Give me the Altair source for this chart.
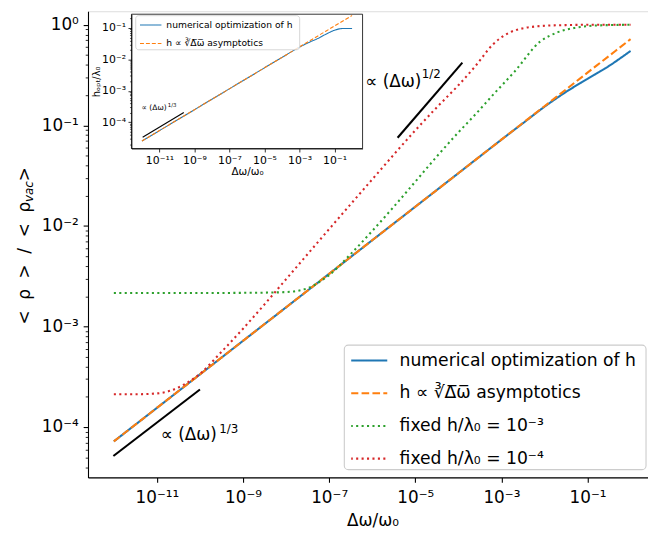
import altair as alt
import pandas as pd

# ---------------- main panel ----------------
main_series = ["numerical optimization of h", "h ∝ ∛Δ\u0305ω\u0305 asymptotics",
               "fixed h/λ₀ = 10⁻³", "fixed h/λ₀ = 10⁻⁴"]
main_colors = ["#1f77b4", "#ff7f0e", "#2ca02c", "#d62728"]
main_dashes = [[1, 0], [7.7, 3.3], [2.1, 3.4], [2.1, 3.4]]

# x given as decade exponents of Δω/ω0, y as <ρ>/<ρvac>
blue_xexp = [-12, -11, -10, -9, -8, -7, -6, -5, -4, -3, -2.5, -2, -1.5, -1, -0.5, 0]
blue_y = [7.2e-5, 1.55e-4, 3.34e-4, 7.2e-4, 1.55e-3, 3.34e-3, 7.2e-3, 1.55e-2,
          3.34e-2, 7.2e-2, 0.105, 0.153, 0.215, 0.29, 0.39, 0.55]
orange_xexp = [-12, -11, -10, -9, -8, -7, -6, -5, -4, -3, -2, -1, 0]
orange_y = [7.2e-5, 1.55e-4, 3.34e-4, 7.2e-4, 1.55e-3, 3.34e-3, 7.2e-3, 1.55e-2,
            3.34e-2, 7.2e-2, 0.155, 0.334, 0.72]
green_xexp = [-12, -10, -9, -8.5, -8, -7.5, -7.2, -7, -6.5, -6, -5.5, -5, -4.5, -4,
              -3.6, -3.2, -2.7, -2.1, -1.7, -1.3, -1, -0.5, 0]
green_y = [2.15e-3, 2.15e-3, 2.16e-3, 2.17e-3, 2.2e-3, 2.4e-3, 2.82e-3, 3.24e-3,
           5.25e-3, 8.9e-3, 1.55e-2, 2.75e-2, 4.9e-2, 8.5e-2, 0.129, 0.2, 0.34,
           0.68, 0.84, 0.93, 0.97, 0.993, 1.0]
red_xexp = [-12, -11.5, -11, -10.7, -10.4, -10, -9.5, -9, -8.5, -8, -7, -6, -5,
            -4.5, -4, -3.6, -3.2, -2.65, -2, -1.5, -1, 0]
red_y = [2.12e-4, 2.12e-4, 2.16e-4, 2.29e-4, 2.6e-4, 3.39e-4, 5.6e-4, 9.5e-4,
         1.66e-3, 2.95e-3, 9.3e-3, 2.9e-2, 8.9e-2, 0.151, 0.25, 0.39, 0.635, 0.89,
         0.977, 0.993, 1.0, 1.0]
ref13_xexp = [-12.01, -10.0]
ref13_y = [5.15e-5, 2.36e-4]
ref12_xexp = [-5.41, -3.906]
ref12_y = [7.53e-2, 0.42]

ann_main_xexp = [-10.908, -9.55, -6.16, -4.85]
ann_main_y = [8.28e-5, 9.55e-5, 0.267, 0.323]
ann_main_text = ["∝ (Δω)", "1/3", "∝ (Δω)", "1/2"]
ann_main_size = [17, 12, 17, 12]

# legend frame corners (data space of the main panel)
main_legend_box_x = [2.249e-7, 2.284]
main_legend_box_y = [3.772e-5, 6.52e-4]

# y-axis title "< ρ > / < ρ_vac >" in three pieces, anchored in data space left of the axis
SP = "\u00a0\u00a0"
ytitle_text = ["<" + SP + "ρ" + SP + ">" + SP + "/" + SP + "<" + SP + "ρ", "vac", SP + ">"]
ytitle_xexp = [-14.056, -13.965, -14.056]
ytitle_y = [1.73e-2, 1.73e-2, 2.78e-2]
ytitle_size = [17, 12, 17]

# ---------------- inset ----------------
inset_series = main_series[:2]
in_blue_xexp = [-12, -11, -10, -9, -8, -7, -6, -5, -4, -3, -2.5, -2, -1.5, -1, -0.55, 0]
in_blue_y = [2.5e-5, 5.39e-5, 1.16e-4, 2.5e-4, 5.39e-4, 1.16e-3, 2.5e-3, 5.39e-3,
             1.16e-2, 2.45e-2, 3.4e-2, 4.5e-2, 6.3e-2, 8.5e-2, 9.6e-2, 9.6e-2]
in_orange_xexp = [-12, -11, -10, -9, -8, -7, -6, -5, -4, -3, -2, -1, 0]
in_orange_y = [2.5e-5, 5.39e-5, 1.16e-4, 2.5e-4, 5.39e-4, 1.16e-3, 2.5e-3, 5.39e-3,
               1.16e-2, 2.5e-2, 5.39e-2, 0.116, 0.25]
in_ref_xexp = [-11.96, -9.61]
in_ref_y = [3.3e-5, 2.04e-4]
ann_in_xexp = [-12.02, -10.53]
ann_in_y = [2.88e-4, 3.47e-4]
ann_in_text = ["∝ (Δω)", "1/3"]
ann_in_size = [7.6, 5.5]
in_legend_box_x = [4.4e-13, 1.016e-3]
in_legend_box_y = [2.023e-2, 0.2466]

FONT = "DejaVu Sans"
W, H = 569, 472
LINE_SYMBOL = "M-1,0H1"


def frame(xexp, y, name):
    return pd.DataFrame({"x": [10.0 ** e for e in xexp], "y": y, "s": name,
                         "i": list(range(len(y)))})


E = "round(log(datum.value)/LN10)"
SUP = "['⁰','¹','²','³','⁴','⁵','⁶','⁷','⁸','⁹']"
MAJOR = f"abs(log(datum.value)/LN10 - {E}) < 0.01"
LABEL = (f"{MAJOR} ? '10' + ({E} < 0 ? '⁻' : '') + (abs({E}) >= 10 ? '¹' : '') + "
         f"{SUP}[abs({E}) % 10] : ''")

main_y_ticks = [m * 10.0 ** k for k in range(-5, 1) for m in range(1, 10)
                if 3.2e-5 <= m * 10.0 ** k <= 1.35]
in_y_ticks = [m * 10.0 ** k for k in range(-5, 0) for m in range(1, 10)
              if 1.5e-5 <= m * 10.0 ** k <= 0.27]
x_ticks = [1e-11, 1e-9, 1e-7, 1e-5, 1e-3, 1e-1]

xs_main = alt.Scale(type="log", domain=[10 ** -12.6, 10 ** 0.4505], nice=False)
ys_main = alt.Scale(type="log", domain=[10 ** -4.501, 10 ** 0.1346], nice=False)
x_axis_main = alt.Axis(values=x_ticks, labelExpr=LABEL, title="Δω/ω₀", grid=False,
                       labelFont=FONT, labelFontSize=17, labelColor="black",
                       labelPadding=7, labelFlush=False, labelOverlap=False,
                       tickColor="black", tickSize=4.9, tickWidth=1.1,
                       domainColor="black", domainWidth=1.1,
                       titleFont=FONT, titleFontSize=17, titleFontWeight="normal",
                       titleColor="black", titleX=288, titleY=49,
                       titleBaseline="alphabetic")
y_axis_main = alt.Axis(values=main_y_ticks, labelExpr=LABEL, title=None, grid=False,
                       labelFont=FONT, labelFontSize=17, labelColor="black",
                       labelPadding=4.9, labelFlush=False, labelOverlap=False,
                       tickColor="black",
                       tickSize={"condition": {"test": MAJOR, "value": 4.9}, "value": 2.8},
                       tickWidth={"condition": {"test": MAJOR, "value": 1.1}, "value": 0.85},
                       domainColor="black", domainWidth=1.1)
main_legend = alt.Legend(title=None, orient="none", legendX=259.5, legendY=338, offset=0,
                         symbolType=LINE_SYMBOL, symbolSize=1369, symbolStrokeWidth=2.1,
                         symbolOffset=-2, labelAlign="left",
                         labelFont=FONT, labelFontSize=17.4, labelColor="black",
                         labelLimit=400, labelOffset=11, clipHeight=17.4, rowPadding=14.1,
                         padding=7)

X = alt.X("x:Q", scale=xs_main, axis=x_axis_main)
Y = alt.Y("y:Q", scale=ys_main, axis=y_axis_main)


def main_line(df):
    return alt.Chart(df).mark_line(strokeWidth=2.1, interpolate="monotone").encode(
        x=X, y=Y,
        color=alt.Color("s:N", scale=alt.Scale(domain=main_series, range=main_colors),
                        legend=main_legend),
        strokeDash=alt.StrokeDash("s:N", scale=alt.Scale(domain=main_series, range=main_dashes),
                                  legend=main_legend),
        order="i:Q")


blue = main_line(frame(blue_xexp, blue_y, main_series[0]))
orange = main_line(frame(orange_xexp, orange_y, main_series[1]))
green = main_line(frame(green_xexp, green_y, main_series[2]))
red = main_line(frame(red_xexp, red_y, main_series[3]))
ref13 = alt.Chart(frame(ref13_xexp, ref13_y, "r")).mark_line(
    color="black", strokeWidth=2.1).encode(x=X, y=Y, order="i:Q")
ref12 = alt.Chart(frame(ref12_xexp, ref12_y, "r")).mark_line(
    color="black", strokeWidth=2.1).encode(x=X, y=Y, order="i:Q")
ann_df = pd.DataFrame({"x": [10.0 ** e for e in ann_main_xexp], "y": ann_main_y,
                       "t": ann_main_text, "fs": ann_main_size})
ann_main = alt.Chart(ann_df).mark_text(align="left", baseline="middle", font=FONT,
                                       color="black").encode(
    x=X, y=Y, text="t:N", size=alt.Size("fs:Q", scale=None, legend=None))
box_df = pd.DataFrame({"x": [main_legend_box_x[0]], "x2": [main_legend_box_x[1]],
                       "y": [main_legend_box_y[0]], "y2": [main_legend_box_y[1]]})
legend_box = alt.Chart(box_df).mark_rect(fill="white", fillOpacity=0.8, stroke="#cccccc",
                                         strokeWidth=1.1, cornerRadius=4).encode(
    x=X, x2="x2:Q", y=Y, y2="y2:Q")

yt_df = pd.DataFrame({"x": [10.0 ** e for e in ytitle_xexp], "y": ytitle_y,
                      "t": ytitle_text, "fs": ytitle_size})
ytitle1 = alt.Chart(yt_df.iloc[[0]]).mark_text(angle=270, align="right", baseline="middle",
                                               font=FONT, fontSize=17, color="black").encode(
    x=X, y=Y, text="t:N")
ytitle2 = alt.Chart(yt_df.iloc[[1]]).mark_text(angle=270, align="left", baseline="middle",
                                               font=FONT, fontSize=12, fontStyle="italic",
                                               color="black").encode(
    x=X, y=Y, text="t:N")
ytitle3 = alt.Chart(yt_df.iloc[[2]]).mark_text(angle=270, align="left", baseline="middle",
                                               font=FONT, fontSize=17, color="black").encode(
    x=X, y=Y, text="t:N")

main = alt.layer(blue, orange, green, red, ref13, ref12, ann_main, legend_box,
                 ytitle1, ytitle2, ytitle3)

# ---------------- inset layers ----------------
xs_in = alt.Scale(type="log", domain=[10 ** -12.6, 10 ** 0.6], range=[44, 278], nice=False)
ys_in = alt.Scale(type="log", domain=[10 ** -4.84, 10 ** -0.561], range=[139, 3], nice=False)
x_axis_in = alt.Axis(values=x_ticks, labelExpr=LABEL, title="Δω/ω₀", grid=False, orient="bottom",
                     offset=139 - H, zindex=1, labelFont=FONT, labelFontSize=11,
                     labelColor="black", labelPadding=2.5, labelFlush=False, labelOverlap=False,
                     tickColor="black", tickSize=3.5, tickWidth=0.8, domainColor="black",
                     domainWidth=0.8, titleFont=FONT, titleFontSize=10.5,
                     titleFontWeight="normal", titleColor="black", titlePadding=1)
y_axis_in = alt.Axis(values=in_y_ticks, labelExpr=LABEL, title="hₒₚₜ/λ₀", grid=False,
                     orient="left", offset=-44, zindex=1, labelFont=FONT, labelFontSize=11,
                     labelColor="black", labelPadding=2.5, labelFlush=False, labelOverlap=False,
                     tickColor="black",
                     tickSize={"condition": {"test": MAJOR, "value": 3.5}, "value": 2},
                     tickWidth={"condition": {"test": MAJOR, "value": 0.8}, "value": 0.6},
                     domainColor="black", domainWidth=0.8, titleFont=FONT, titleFontSize=10,
                     titleFontWeight="normal", titleColor="black", titlePadding=0)
in_legend = alt.Legend(title=None, orient="none", legendX=48, legendY=5, offset=0,
                       symbolType=LINE_SYMBOL, symbolSize=471, symbolStrokeWidth=1.1,
                       labelAlign="left",
                       labelFont=FONT, labelFontSize=9.3, labelColor="black",
                       labelLimit=300, labelOffset=4.3, clipHeight=10, rowPadding=7.6,
                       padding=4)
XI = alt.X("x:Q", scale=xs_in, axis=x_axis_in)
YI = alt.Y("y:Q", scale=ys_in, axis=y_axis_in)

frame_df = pd.DataFrame({"x": [10 ** -12.6], "x2": [10 ** 0.6],
                         "y": [10 ** -4.84], "y2": [10 ** -0.561]})
in_frame = alt.Chart(frame_df).mark_rect(fill="white", stroke="black", strokeWidth=0.8).encode(
    x=XI, x2="x2:Q", y=YI, y2="y2:Q")


def inset_line(df):
    return alt.Chart(df).mark_line(strokeWidth=1.1, interpolate="monotone").encode(
        x=XI, y=YI,
        color=alt.Color("s:N", scale=alt.Scale(domain=inset_series, range=main_colors[:2]),
                        legend=in_legend),
        strokeDash=alt.StrokeDash("s:N", scale=alt.Scale(domain=inset_series,
                                                         range=[[1, 0], [4, 2]]),
                                  legend=in_legend),
        order="i:Q")


in_blue = inset_line(frame(in_blue_xexp, in_blue_y, inset_series[0]))
in_orange = inset_line(frame(in_orange_xexp, in_orange_y, inset_series[1]))
in_ref = alt.Chart(frame(in_ref_xexp, in_ref_y, "r")).mark_line(
    color="black", strokeWidth=1.1).encode(x=XI, y=YI, order="i:Q")
ann_in_df = pd.DataFrame({"x": [10.0 ** e for e in ann_in_xexp], "y": ann_in_y,
                          "t": ann_in_text, "fs": ann_in_size})
ann_in = alt.Chart(ann_in_df).mark_text(align="left", baseline="middle", font=FONT,
                                        color="black").encode(
    x=XI, y=YI, text="t:N", size=alt.Size("fs:Q", scale=None, legend=None))
in_box_df = pd.DataFrame({"x": [in_legend_box_x[0]], "x2": [in_legend_box_x[1]],
                          "y": [in_legend_box_y[0]], "y2": [in_legend_box_y[1]]})
in_legend_box = alt.Chart(in_box_df).mark_rect(fill="white", fillOpacity=0.8, stroke="#cccccc",
                                               strokeWidth=0.8, cornerRadius=3).encode(
    x=XI, x2="x2:Q", y=YI, y2="y2:Q")

inset = alt.layer(in_frame, in_blue, in_orange, in_ref, ann_in, in_legend_box)

chart = alt.layer(main, inset).resolve_scale(
    x="independent", y="independent", color="independent", strokeDash="independent",
    size="independent"
).resolve_axis(x="independent", y="independent").resolve_legend(
    color="independent", strokeDash="independent", size="independent"
).properties(
    width=W, height=H,
    autosize=alt.AutoSizeParams(type="none"),
    padding={"left": 81, "top": 0, "right": -2, "bottom": 54},
).configure_view(stroke="black", strokeWidth=1.1).configure(font=FONT)

chart.save("out.html", embed_options={"renderer": "svg", "actions": False})
